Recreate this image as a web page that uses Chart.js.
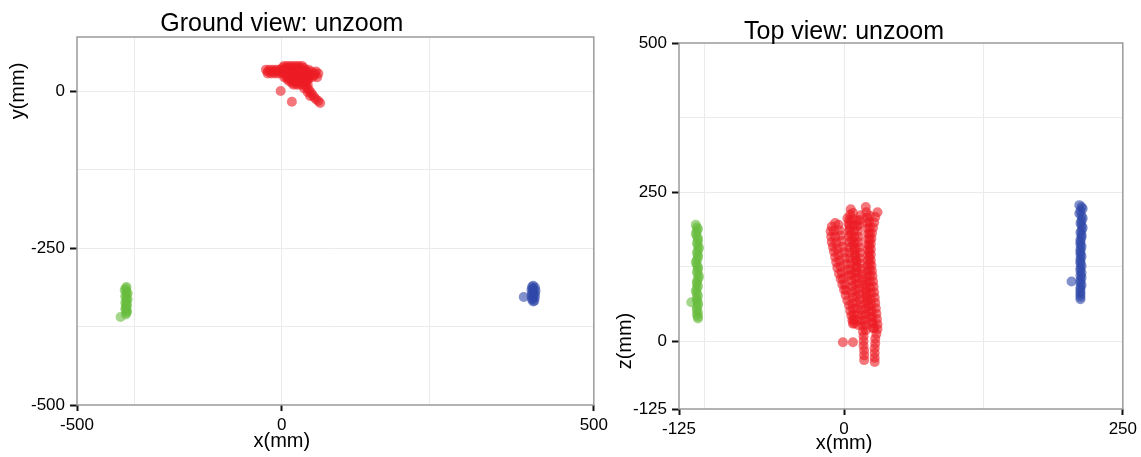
<!DOCTYPE html>
<html>
<head>
<meta charset="utf-8">
<script src="https://cdn.jsdelivr.net/npm/chart.js@4"></script>
<style>
	body { margin: 0; background: #fff; }
	#wrap { position: relative; width: 1141px; height: 457px; }
	#ground { position: absolute; left: 0; top: 0; }
	#top { position: absolute; left: 600px; top: 0; }
</style>
</head>
<body>
<div id="wrap">
	<canvas id="ground" width="612" height="457"></canvas>
	<canvas id="top" width="541" height="457"></canvas>
</div>
<script>
//Ground view (x, y in mm)
const groundRed = [
	[4, 40], [10, 40], [16, 40], [22, 40], [28, 40], [34, 40],
	[1, 37], [7, 37], [13, 37], [19, 37], [25, 37], [31, 37], [37, 37],
	[-27, 34], [-21, 34], [-15, 34], [-9, 34], [-3, 34], [3, 34], [9, 34], [15, 34], [21, 34], [27, 34], [33, 34], [39, 34], [45, 34],
	[-24, 31], [-18, 31], [-12, 31], [-6, 31], [0, 31], [6, 31], [12, 31], [18, 31], [24, 31], [30, 31], [36, 31], [42, 31], [50, 31], [58, 31],
	[-24, 28], [-18, 28], [-12, 28], [-6, 28], [0, 28], [6, 28], [12, 28], [18, 28], [24, 28], [30, 28], [36, 28], [42, 28], [48, 28], [56, 28], [62, 28],
	[7, 25], [13, 25], [19, 25], [25, 25], [31, 25], [37, 25], [43, 25], [49, 25], [55, 25],
	[4, 22], [10, 22], [16, 22], [22, 22], [28, 22], [34, 22], [40, 22], [46, 22], [52, 22], [60, 22],
	[9, 19], [15, 19], [21, 19], [27, 19], [33, 19], [39, 19], [45, 19],
	[12, 16], [18, 16], [24, 16], [30, 16], [36, 16], [42, 16],
	[17, 13], [23, 13], [29, 13], [35, 13], [41, 13],
	[20, 10], [26, 10], [32, 10], [38, 10], [44, 10],
	[38, 4], [42, 6], [46, 2], [44, -2], [49, -2], [52, -6], [48, -8], [55, -10], [58, -13], [62, -16], [65, -19]
];
const groundRedStray = [[-2, 0], [17, -17]];
const groundGreen = [
	[-264, -312], [-265, -314], [-267, -317], [-264, -319], [-262, -322], [-264, -324], [-266, -327], [-264, -329],
	[-262, -332], [-264, -334], [-266, -337], [-264, -339], [-263, -342], [-265, -344], [-266, -347], [-264, -349],
	[-263, -351], [-264, -353], [-265, -356], [-274, -360]
];
const groundBlue = [
	[427, -310], [425, -312], [430, -313], [427, -315], [424, -317], [431, -318], [427, -320], [425, -322], [430, -323],
	[427, -325], [424, -327], [430, -328], [427, -330], [425, -332], [429, -334], [427, -335], [411, -328]
];

//Top view (x, z in mm)
const topRed = [
	[-8, 198], [-11, 192], [-12, 184], [-11.5, 175], [-11, 166], [-10, 158], [-9, 150], [-8, 141], [-7, 132], [-6, 123],
	[-4.5, 113], [-3, 104], [-1.5, 95], [0, 86], [1.5, 77], [3, 68], [4.5, 60], [5.5, 51], [6.5, 43], [7.5, 35], [8, 29],
	[-9, 185], [-8, 175], [-7, 165], [-6, 155], [-5, 145], [-4, 135], [-3, 125], [-2, 115], [-1, 105], [1, 95], [2, 85],
	[-5, 195], [-4, 186], [-3, 177], [-2, 168], [-1, 158], [0, 149], [1, 139], [2, 129], [3, 119], [4, 109],
	[6, 221], [5.5, 212], [5, 203], [5, 194], [4.5, 185], [4.5, 176], [5, 166], [5, 157], [5, 148], [5.5, 139], [6, 130],
	[6, 120], [6.5, 111], [6.5, 101], [7, 92], [7, 82], [7.5, 73], [7.5, 63], [8, 54], [8.5, 44], [8.5, 36], [9, 30],
	[8, 215], [8, 205], [8.5, 195], [9, 185], [9, 175], [9.5, 165], [10, 155], [10, 145], [10.5, 135], [10.5, 125],
	[10, 115], [10, 105], [10, 95], [10.5, 85], [11, 75], [11, 65], [11.5, 55], [12, 45], [12, 35], [12.5, 27],
	[3, 206], [4, 197], [5, 188], [6, 179], [7, 170], [8, 161], [9, 152], [10, 142], [11, 133], [11.5, 124], [12, 115],
	[12.5, 106], [13, 97], [13.5, 88], [14, 79], [14.5, 70], [15, 61], [15.5, 52], [16, 43], [16.5, 34], [17, 25], [17, 16],
	[17.5, 8], [17.5, 0], [17.5, -8], [18, -16], [18, -24], [18, -32],
	[19.5, 225], [20, 216], [20.5, 207], [21, 198], [21, 189], [21.5, 180], [21.5, 171], [21.5, 162], [21.5, 153], [21.5, 144],
	[21.5, 135], [21, 126], [21, 117], [20.5, 108], [20.5, 99], [20, 90], [20, 81], [20, 72], [19.5, 63], [19.5, 54],
	[19.5, 45], [19.5, 36], [19.5, 27], [19.5, 18],
	[23, 210], [22.5, 200], [23, 190], [23, 180], [23, 170], [22.5, 160], [22.5, 150], [22.5, 140], [23, 130], [23, 120],
	[23, 110], [23, 100], [23.5, 90], [24, 80], [24, 70], [24.5, 60], [25, 50], [25.5, 40], [26, 30], [27, 21],
	[30, 216], [28, 208], [27, 199], [26, 190], [25, 181], [24.5, 172], [24, 163], [24, 154], [24, 145], [24, 136],
	[24.5, 127], [25, 118], [25.5, 109], [26, 100], [26.5, 91], [27, 82], [27.5, 73], [28, 64], [28.5, 55], [29, 46],
	[29.5, 37], [30, 28], [30, 20], [29, 12], [28, 4], [28, -4], [27.5, -12], [27.5, -20], [27.5, -28], [27.5, -35],
	[12, 202], [12, 193], [12.5, 184], [13, 175], [13, 166], [13.5, 157], [14, 148], [14, 139], [15, 130], [15.5, 121],
	[16, 112], [17, 103], [18, 94], [19, 85], [20, 76], [21, 67], [22, 58], [23, 49], [24, 40], [25, 31], [26, 22],
	[15, 211], [14, 203], [13.5, 195]
];
const topRedStray = [[-1, -2], [8, -2]];
const topGreen = [
	[-133, 195], [-132, 191], [-131, 188], [-132, 184], [-133, 180], [-132, 176], [-131, 172], [-131, 168], [-132, 164],
	[-131, 160], [-130, 156], [-131, 152], [-132, 148], [-131, 144], [-131, 140], [-132, 136], [-133, 132], [-132, 128],
	[-131, 124], [-131, 120], [-132, 116], [-131, 112], [-130, 108], [-131, 104], [-132, 100], [-132, 96], [-131, 92],
	[-132, 88], [-133, 84], [-132, 80], [-131, 76], [-132, 72], [-132, 68], [-131, 64], [-131, 60], [-132, 56],
	[-132, 52], [-131, 48], [-132, 44], [-131, 41], [-131, 38], [-137, 65]
];
const topBlue = [
	[211, 228], [213, 225], [214, 222], [212, 218], [211, 214], [213, 210], [214, 206], [213, 202], [212, 198], [213, 194],
	[214, 190], [213, 186], [212, 182], [213, 178], [213, 174], [212, 170], [212, 166], [212, 162], [213, 158], [212, 154],
	[212, 150], [212, 146], [213, 142], [212, 138], [212, 134], [212, 130], [213, 126], [212, 122], [212, 118], [213, 114],
	[212, 110], [213, 106], [212, 102], [212, 98], [213, 94], [212, 90], [212, 86], [212, 82], [212, 78], [212, 74],
	[212, 70], [204, 100]
];

//Axis ticks: value where the tick sits, and the printed label ('' = grid line only)
const groundXTicks = [-348, -250, 0, 250, 530];
const groundXLabels = ['-500', '', '0', '', '500'];
const groundYTicks = [-500, -375, -250, -125, 0, 86];
const groundYLabels = ['-500', '', '-250', '', '0', ''];
const topXTicks = [-148, -125, 0, 125, 250];
const topXLabels = ['-125', '', '0', '', '250'];
const topYTicks = [-114, 0, 125, 250, 375, 500];
const topYLabels = ['-125', '0', '', '250', '', '500'];

const FONT = '"Liberation Sans", Arial, sans-serif';
const RED = 'rgba(237, 28, 36, 0.6)';
const GREEN = 'rgba(104, 188, 62, 0.6)';
const BLUE = 'rgba(46, 72, 168, 0.6)';

function toPoints(list) {
	return list.map(p => ({x: p[0], y: p[1]}));
}

function dataset(list, color) {
	return {
		data: toPoints(list),
		backgroundColor: color,
		borderWidth: 0,
		pointRadius: 5,
		pointHoverRadius: 5
	};
}

function axis(ticks, labels, size, tickLength, padding) {
	const min = ticks[0];
	const max = ticks[ticks.length - 1];
	return {
		type: 'linear',
		min: min,
		max: max,
		afterBuildTicks: scale => {
			scale.ticks = ticks.map(v => ({value: v}));
		},
		afterFit: scale => {
			if (scale.isHorizontal()) {
				scale.height = size;
			} else {
				scale.width = size;
			}
		},
		border: {display: false},
		grid: {
			color: c => (c.tick && (c.tick.value === min || c.tick.value === max)) ? 'rgba(0,0,0,0)' : '#ebebeb',
			tickColor: c => (c.tick && labels[ticks.indexOf(c.tick.value)]) ? '#111' : 'rgba(0,0,0,0)',
			lineWidth: 1,
			tickLength: tickLength,
			tickWidth: 2
		},
		ticks: {
			autoSkip: false,
			maxRotation: 0,
			padding: padding,
			color: '#000',
			font: {family: FONT, size: 17},
			callback: v => labels[ticks.indexOf(v)]
		}
	};
}

const decor = {
	id: 'decor',
	beforeDatasetsDraw(chart, args, opts) {
		const ctx = chart.ctx;
		const a = chart.chartArea;
		ctx.save();
		ctx.strokeStyle = '#9a9a9a';
		ctx.lineWidth = 1.5;
		ctx.strokeRect(a.left, a.top, a.right - a.left, a.bottom - a.top);
		ctx.restore();
	},
	afterDraw(chart, args, opts) {
		const ctx = chart.ctx;
		const x0 = chart.scales.x.getPixelForValue(0);
		const y0 = chart.scales.y.getPixelForValue(0);
		ctx.save();
		ctx.fillStyle = '#000';
		ctx.textAlign = 'center';
		ctx.textBaseline = 'alphabetic';
		ctx.font = '25px ' + FONT;
		ctx.fillText(opts.title, x0, opts.titleY);
		ctx.font = '20px ' + FONT;
		ctx.textBaseline = 'middle';
		ctx.fillText(opts.xTitle, x0, opts.xTitleY);
		ctx.translate(opts.yTitleX, y0);
		ctx.rotate(-Math.PI / 2);
		ctx.fillText(opts.yTitle, 0, 0);
		ctx.restore();
	}
};

function makeChart(id, sets, xAxis, yAxis, padding, labels) {
	return new Chart(document.getElementById(id), {
		type: 'scatter',
		data: {datasets: sets},
		options: {
			responsive: false,
			animation: false,
			layout: {padding: padding},
			scales: {x: xAxis, y: yAxis},
			plugins: {
				legend: {display: false},
				tooltip: {enabled: false},
				decor: labels
			}
		},
		plugins: [decor]
	});
}

makeChart('ground', [
	dataset(groundRed, RED),
	dataset(groundRedStray, RED),
	dataset(groundGreen, GREEN),
	dataset(groundBlue, BLUE)
], axis(groundXTicks, groundXLabels, 52, 6, 4), axis(groundYTicks, groundYLabels, 77, 7, 5),
	{left: 0, right: 6, top: 37, bottom: 0},
	{title: 'Ground view: unzoom', titleY: 31, xTitle: 'x(mm)', xTitleY: 441, yTitle: 'y(mm)', yTitleX: 18});

makeChart('top', [
	dataset(topRed, RED),
	dataset(topRedStray, RED),
	dataset(topGreen, GREEN),
	dataset(topBlue, BLUE)
], axis(topXTicks, topXLabels, 48, 6, 4), axis(topYTicks, topYLabels, 79, 7, 5),
	{left: 0, right: 14, top: 43, bottom: 0},
	{title: 'Top view: unzoom', titleY: 39, xTitle: 'x(mm)', xTitleY: 443, yTitle: 'z(mm)', yTitleX: 25});
</script>
</body>
</html>
